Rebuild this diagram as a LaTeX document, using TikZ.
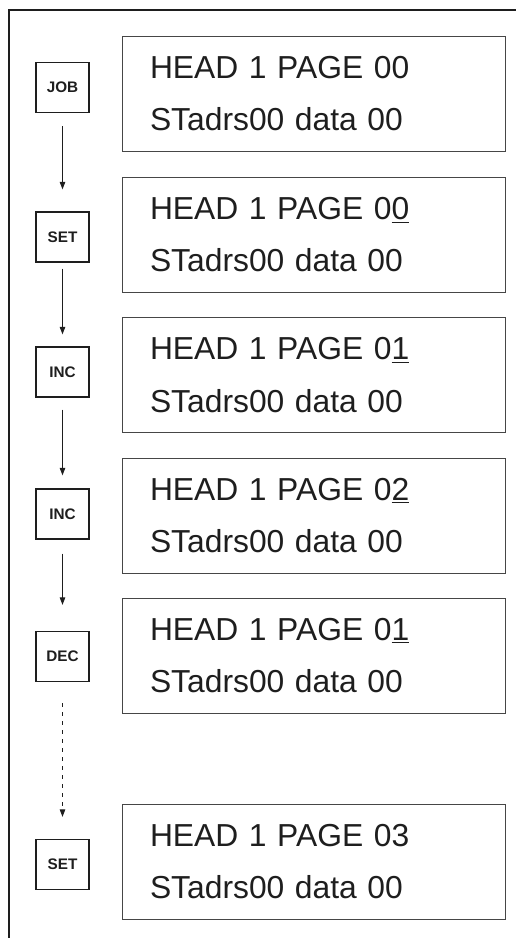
\documentclass[tikz,border=0pt]{standalone}
\usepackage{fontspec}
\setmainfont{Liberation Sans}
\usetikzlibrary{positioning,arrows.meta}
\definecolor{lcdline}{RGB}{70,70,70}
\definecolor{inkdark}{RGB}{30,30,30}
\newcommand{\curs}[1]{\underline{#1}}
\tikzset{
  lcd/.style={draw=lcdline, line width=0.55pt, text=inkdark, text width=6.56cm, inner xsep=0.56cm, inner ysep=0pt, minimum height=2.3cm, align=left, font=\fontsize{18.1}{30}\selectfont},
  key/.style={draw=inkdark, line width=0.75pt, text=inkdark, minimum width=1.06cm, minimum height=1cm, inner sep=0pt, font=\fontsize{8.7}{10}\selectfont\bfseries},
  arrow/.style={-{Triangle[length=1.5mm,width=1.1mm]}, line width=0.55pt, inkdark},
  frame/.style={line width=0.85pt, inkdark}
}

\begin{document}
\begin{tikzpicture}[x=0.02cm, y=-0.02cm]
    \useasboundingbox (0,0) rectangle (516,938);
    \draw[frame] (9,938) -- (9,10) -- (516,10);
    % keys pressed
    \node[key] (k1) at (62.5,87.5) {JOB};
    \node[key] (k2) at (62.5,237) {SET};
    \node[key] (k3) at (62.5,372) {INC};
    \node[key] (k4) at (62.5,514) {INC};
    \node[key] (k5) at (62.5,656.5) {DEC};
    \node[key] (k6) at (62.5,864.5) {SET};
    % display contents
    \node[lcd] (d1) at (314,93.5) {HEAD 1 PAGE 00\\STadrs00 data 00};
    \node[lcd] (d2) at (314,234.5) {HEAD 1 PAGE 0\curs{0}\\STadrs00 data 00};
    \node[lcd] (d3) at (314,375) {HEAD 1 PAGE 0\curs{1}\\STadrs00 data 00};
    \node[lcd] (d4) at (314,515.5) {HEAD 1 PAGE 0\curs{2}\\STadrs00 data 00};
    \node[lcd] (d5) at (314,655.5) {HEAD 1 PAGE 0\curs{1}\\STadrs00 data 00};
    \node[lcd] (d6) at (314,861.5) {HEAD 1 PAGE 03\\STadrs00 data 00};
    \foreach \a/\b/\s/\e in {k1/k2/0.26/0.44,k2/k3/0.12/0.24,k3/k4/0.24/0.26,k4/k5/0.28/0.52}{\draw[arrow, shorten <=\s cm, shorten >=\e cm] (\a) -- (\b);}
    \draw[arrow, dash pattern=on 0.08cm off 0.1cm, shorten <=0.42cm, shorten >=0.44cm] (k5) -- (k6);
  \end{tikzpicture}
\end{document}
